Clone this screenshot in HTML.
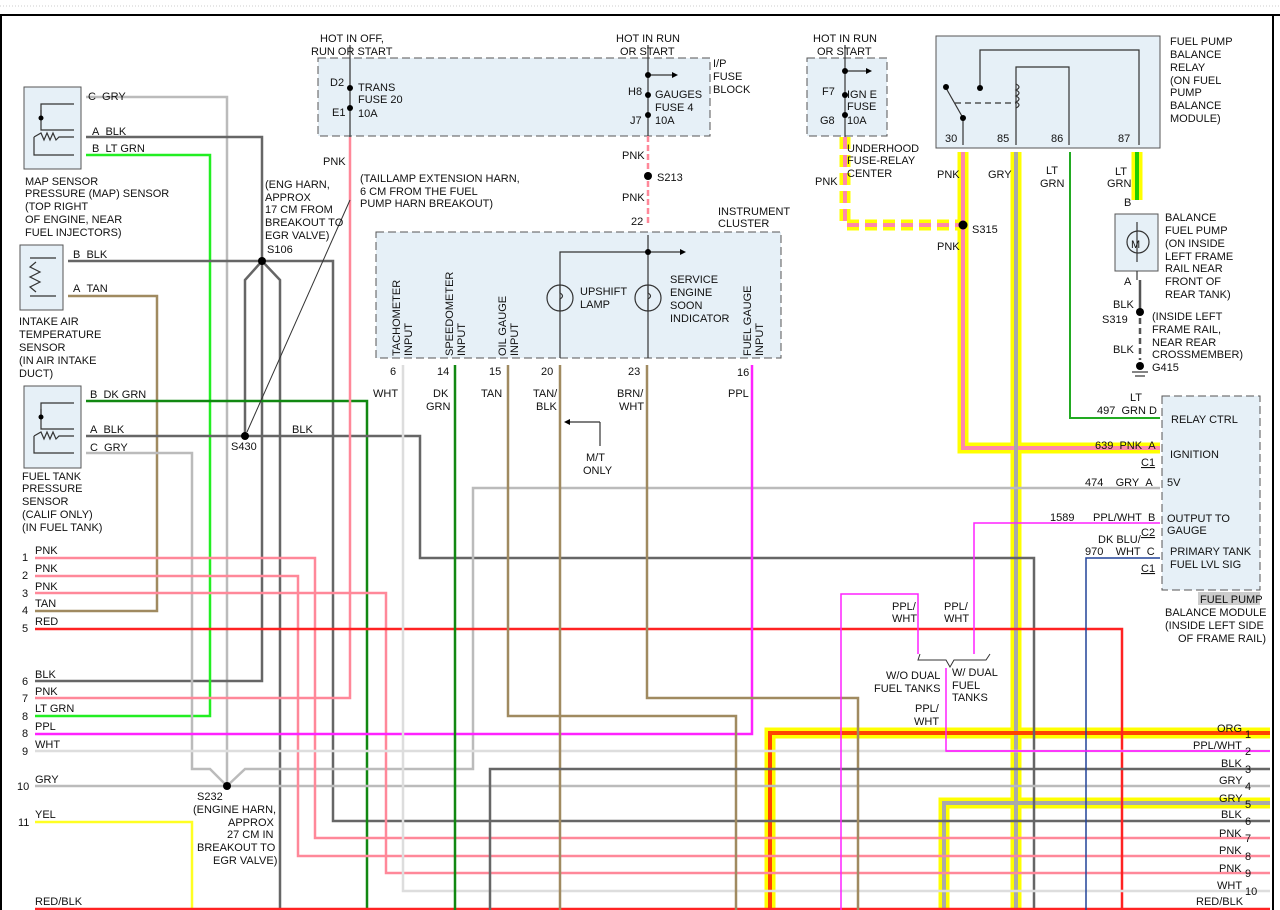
<!DOCTYPE html>
<html><head><meta charset="utf-8"><style>
html,body{margin:0;padding:0;background:#fff;}
svg{display:block;}
text{font-family:"Liberation Sans",sans-serif;font-size:11px;fill:#111;}
</style></head><body>
<svg width="1280" height="910" viewBox="0 0 1280 910" xmlns="http://www.w3.org/2000/svg">
<line x1="0" y1="6" x2="1280" y2="6" stroke="#ccc" stroke-dasharray="1 2"/>
<line x1="0" y1="15" x2="1280" y2="15" stroke="#000" stroke-width="2"/>
<line x1="1" y1="15" x2="1" y2="910" stroke="#000" stroke-width="2"/>
<line x1="1273" y1="15" x2="1273" y2="910" stroke="#000" stroke-width="2"/>

<g fill="#e6f0f7" stroke="#555" stroke-dasharray="8 4">
<rect x="318" y="58" width="392" height="78"/>
<rect x="807" y="58" width="80" height="78"/>
<rect x="376" y="232" width="405" height="126"/>
<rect x="1162" y="396" width="98" height="194"/>
</g>
<g fill="#e6f0f7" stroke="#555">
<rect x="936" y="36" width="224" height="112"/>
<rect x="24" y="87" width="57" height="82"/>
<rect x="20" y="245" width="43" height="65"/>
<rect x="24" y="386" width="57" height="82"/>
<rect x="1115" y="214" width="43" height="57"/>
</g>

<g fill="none" stroke="#ffff00" stroke-width="11">
<polyline points="963,152 963,448 1160,448"/>
<line x1="1016" y1="152" x2="1016" y2="910"/>
<polyline points="770,910 770,733 1270,733"/>
<polyline points="944,910 944,803 1270,803"/>
<line x1="1137" y1="152" x2="1137" y2="200"/>
<polyline points="845,137 845,225 963,225" stroke-dasharray="12 6"/>
</g>
<g fill="none" stroke-width="4">
<polyline points="963,152 963,448 1160,448" stroke="#ff88aa"/>
<line x1="1016" y1="152" x2="1016" y2="910" stroke="#aaa"/>
<polyline points="770,910 770,733 1270,733" stroke="#ff4400"/>
<polyline points="944,910 944,803 1270,803" stroke="#aaa"/>
<line x1="1137" y1="152" x2="1137" y2="200" stroke="#22cc00"/>
<polyline points="845,137 845,225 963,225" stroke="#ff88aa" stroke-dasharray="12 6"/>
</g>

<g fill="none" stroke-width="2.5">
<polyline points="86,97 227,97 227,786" stroke="#bbb"/>
<polyline points="86,137 262,137 262,681 35,681" stroke="#666"/>
<polyline points="86,155 210,155 210,716 35,716" stroke="#22ee22"/>
<polyline points="68,261 333,261 333,821 1270,821" stroke="#666"/>
<polyline points="262,261 245,280 245,436" stroke="#666"/>
<polyline points="262,261 280,280 280,910" stroke="#666"/>
<polyline points="68,296 157,296 157,611 35,611" stroke="#a08a60"/>
<polyline points="86,401 367,401 367,910" stroke="#118811"/>
<polyline points="86,436 420,436 420,558 1034,558 1034,910" stroke="#666"/>
<polyline points="86,453 192,453 192,769 210,769 227,786" stroke="#bbb"/>
<polyline points="227,786 245,769 473,769 473,488 1160,488" stroke="#bbb"/>
<polyline points="35,786 1270,786" stroke="#bbb"/>
<polyline points="35,558 315,558 315,838 1270,838" stroke="#ff8899"/>
<polyline points="35,576 298,576 298,856 1270,856" stroke="#ff8899"/>
<polyline points="35,593 386,593 386,873 1270,873" stroke="#ff8899"/>
<polyline points="350,137 350,698 35,698" stroke="#ff8899"/>
<polyline points="35,629 1122,629 1122,910" stroke="#ff2222"/>
<polyline points="35,734 752,734 752,365" stroke="#ff22ff"/>
<polyline points="35,751 1270,751" stroke="#ddd"/>
<polyline points="403,365 403,891 1270,891" stroke="#ddd"/>
<polyline points="35,822 192,822 192,910" stroke="#ffff22"/>
<line x1="35" y1="909" x2="1270" y2="909" stroke="#ff2222"/>
<line x1="455" y1="365" x2="455" y2="910" stroke="#118811"/>
<polyline points="508,365 508,716 736,716 736,910" stroke="#a08a60"/>
<line x1="560" y1="365" x2="560" y2="910" stroke="#a08a60"/>
<polyline points="647,365 647,698 858,698 858,910" stroke="#a08a60"/>
<polyline points="490,910 490,769 1270,769" stroke="#666"/>
<polyline points="841,910 841,594 918,594 918,654" stroke="#ff22ff" stroke-width="1.5"/>
<polyline points="1160,523 974,523 974,654" stroke="#ff22ff" stroke-width="1.5"/>
<polyline points="946,668 946,751 1270,751" stroke="#ff22ff" stroke-width="1.5"/>
<polyline points="1160,558 1086,558 1086,910" stroke="#224499" stroke-width="1.5"/>
<polyline points="1070,152 1070,418 1160,418" stroke="#22aa22" stroke-width="2"/>
<line x1="648" y1="136" x2="648" y2="225" stroke="#ff8899" stroke-dasharray="6 3"/>
<line x1="1140" y1="280" x2="1140" y2="312" stroke="#555"/>
<line x1="1140" y1="318" x2="1140" y2="360" stroke="#555" stroke-dasharray="6 4"/>
</g>
<line x1="946" y1="751" x2="1270" y2="751" stroke="#ff22ff" stroke-width="1.5"/>

<g fill="none" stroke="#333" stroke-width="1.2">
<line x1="350" y1="45" x2="350" y2="137"/>
<line x1="648" y1="45" x2="648" y2="136"/>
<line x1="648" y1="75" x2="672" y2="75"/>
<line x1="845" y1="45" x2="845" y2="137"/>
<line x1="845" y1="71" x2="866" y2="71"/>
<line x1="648" y1="235" x2="648" y2="358"/>
<polyline points="560,358 560,252 680,252"/>
<polyline points="600,422 600,446"/><polyline points="600,422 570,422"/>
<polyline points="980,88 980,50 1139,50 1139,145"/>
<polyline points="1016,145 1016,67 1069,67 1069,145"/>
<line x1="963" y1="118" x2="963" y2="145"/>
<line x1="946" y1="88" x2="963" y2="118"/>
<line x1="955" y1="103" x2="1016" y2="103" stroke-dasharray="6 4"/>
<path d="M1016,84 q6,3 0,6 q6,3 0,6 q6,3 0,6 q6,3 0,6"/>
<line x1="1137" y1="222" x2="1137" y2="262"/>
<circle cx="1138" cy="242" r="11"/>
<line x1="1137" y1="271" x2="1137" y2="280"/>
<line x1="1132" y1="372" x2="1148" y2="372"/>
<line x1="1135" y1="376" x2="1145" y2="376"/>
<circle cx="560" cy="298" r="13"/>
<circle cx="648" cy="298" r="13"/>
<path d="M560,285 v8 q5,3 0,6 v12 M648,285 v8 q5,3 0,6 v12"/>
<polyline points="41,110 41,130 74,130"/>
<polyline points="41,118 41,104 74,104"/>
<polyline points="34,137 34,155 74,155"/>
<polyline points="34,137 41,133 44,140 47,133 50,140 53,133 56,140 59,137 74,137"/>
<polyline points="41,409 41,429 74,429"/>
<polyline points="41,417 41,403 74,403"/>
<polyline points="34,436 34,453 74,453"/>
<polyline points="34,436 41,432 44,439 47,432 50,439 53,432 56,439 59,436 74,436"/>
<polyline points="30,258 56,258"/>
<polyline points="30,296 56,296"/>
<polyline points="36,262 30,267 40,272 30,277 40,282 30,287 36,292"/>
</g>
<g fill="#000">
<circle cx="350" cy="88" r="3"/><circle cx="350" cy="108" r="3"/>
<circle cx="648" cy="75" r="3"/><circle cx="648" cy="95" r="3"/><circle cx="648" cy="115" r="3"/>
<circle cx="845" cy="71" r="3"/><circle cx="845" cy="95" r="3"/><circle cx="845" cy="115" r="3"/>
<circle cx="648" cy="176" r="4"/><circle cx="648" cy="252" r="3"/>
<circle cx="262" cy="261" r="4"/><circle cx="245" cy="436" r="4"/><circle cx="227" cy="786" r="4"/>
<circle cx="963" cy="225" r="4.5"/><circle cx="1140" cy="312" r="4"/><circle cx="1140" cy="366" r="4"/>
<circle cx="980" cy="88" r="3"/><circle cx="946" cy="87" r="3"/><circle cx="963" cy="118" r="3"/>
<circle cx="41" cy="118" r="2.5"/><circle cx="41" cy="417" r="2.5"/>
<polygon points="672,72 678,75 672,78"/><polygon points="866,68 872,71 866,74"/><polygon points="680,249 686,252 680,255"/><polygon points="570,419 564,422 570,425"/>
</g>
<line x1="350" y1="200" x2="247" y2="432" stroke="#333" stroke-width="1"/>
<g fill="none" stroke="#333" stroke-width="1">
<polyline points="920,654 918,660 946,660 950,667 954,660 986,660 990,654"/>
</g>

<g>
<text x="88" y="100">C&#160;&#160;GRY</text>
<text x="92" y="135">A&#160;&#160;BLK</text>
<text x="92" y="152">B&#160;&#160;LT GRN</text>
<text x="25" y="185">MAP SENSOR</text><text x="25" y="197">PRESSURE (MAP) SENSOR</text><text x="25" y="210">(TOP RIGHT</text><text x="25" y="223">OF ENGINE, NEAR</text><text x="25" y="236">FUEL INJECTORS)</text>
<text x="73" y="258">B&#160;&#160;BLK</text><text x="73" y="292">A&#160;&#160;TAN</text>
<text x="19" y="325">INTAKE AIR</text><text x="19" y="338">TEMPERATURE</text><text x="19" y="351">SENSOR</text><text x="19" y="364">(IN AIR INTAKE</text><text x="19" y="377">DUCT)</text>
<text x="90" y="398">B&#160;&#160;DK GRN</text><text x="90" y="433">A&#160;&#160;BLK</text><text x="90" y="451">C&#160;&#160;GRY</text>
<text x="22" y="480">FUEL TANK</text><text x="22" y="492">PRESSURE</text><text x="22" y="505">SENSOR</text><text x="22" y="518">(CALIF ONLY)</text><text x="22" y="531">(IN FUEL TANK)</text>
<text x="265" y="188">(ENG HARN,</text><text x="265" y="201">APPROX</text><text x="265" y="213">17 CM FROM</text><text x="265" y="226">BREAKOUT TO</text><text x="265" y="239">EGR VALVE)</text><text x="267" y="253">S106</text>
<text x="360" y="182">(TAILLAMP EXTENSION HARN,</text><text x="360" y="195">6 CM FROM THE FUEL</text><text x="360" y="207">PUMP HARN BREAKOUT)</text>
<text x="231" y="450">S430</text><text x="292" y="433">BLK</text>
<text x="323" y="165">PNK</text>
<text x="320" y="42">HOT IN OFF,</text><text x="311" y="55">RUN OR START</text>
<text x="330" y="86">D2</text><text x="358" y="91">TRANS</text><text x="358" y="103">FUSE 20</text><text x="332" y="116">E1</text><text x="358" y="117">10A</text>
<text x="616" y="42">HOT IN RUN</text><text x="620" y="55">OR START</text>
<text x="713" y="67">I/P</text><text x="713" y="80">FUSE</text><text x="713" y="93">BLOCK</text>
<text x="628" y="95">H8</text><text x="655" y="98">GAUGES</text><text x="655" y="111">FUSE 4</text><text x="630" y="124">J7</text><text x="655" y="124">10A</text>
<text x="622" y="159">PNK</text><text x="657" y="181">S213</text><text x="622" y="201">PNK</text><text x="631" y="225">22</text>
<text x="718" y="215">INSTRUMENT</text><text x="718" y="227">CLUSTER</text>
<text x="580" y="295">UPSHIFT</text><text x="580" y="308">LAMP</text>
<text x="670" y="283">SERVICE</text><text x="670" y="296">ENGINE</text><text x="670" y="309">SOON</text><text x="670" y="322">INDICATOR</text>
<text transform="translate(400,356) rotate(-90)">TACHOMETER</text><text transform="translate(412,356) rotate(-90)">INPUT</text>
<text transform="translate(453,356) rotate(-90)">SPEEDOMETER</text><text transform="translate(465,356) rotate(-90)">INPUT</text>
<text transform="translate(506,356) rotate(-90)">OIL GAUGE</text><text transform="translate(518,356) rotate(-90)">INPUT</text>
<text transform="translate(751,356) rotate(-90)">FUEL GAUGE</text><text transform="translate(763,356) rotate(-90)">INPUT</text>
<text x="390" y="375">6</text><text x="437" y="375">14</text><text x="489" y="375">15</text><text x="541" y="375">20</text><text x="628" y="375">23</text><text x="737" y="376">16</text>
<text x="373" y="397">WHT</text><text x="433" y="397">DK</text><text x="426" y="410">GRN</text><text x="481" y="397">TAN</text>
<text x="533" y="397">TAN/</text><text x="536" y="410">BLK</text><text x="617" y="397">BRN/</text><text x="619" y="410">WHT</text><text x="728" y="397">PPL</text>
<text x="586" y="461">M/T</text><text x="583" y="474">ONLY</text>
<text x="813" y="42">HOT IN RUN</text><text x="817" y="55">OR START</text>
<text x="822" y="95">F7</text><text x="847" y="98">IGN E</text><text x="847" y="110">FUSE</text><text x="820" y="124">G8</text><text x="847" y="124">10A</text>
<text x="847" y="152">UNDERHOOD</text><text x="847" y="164">FUSE-RELAY</text><text x="847" y="177">CENTER</text><text x="815" y="185">PNK</text>
<text x="1170" y="45">FUEL PUMP</text><text x="1170" y="58">BALANCE</text><text x="1170" y="71">RELAY</text><text x="1170" y="84">(ON FUEL</text><text x="1170" y="96">PUMP</text><text x="1170" y="109">BALANCE</text><text x="1170" y="122">MODULE)</text>
<text x="945" y="142">30</text><text x="997" y="142">85</text><text x="1051" y="142">86</text><text x="1118" y="142">87</text>
<text x="937" y="178">PNK</text><text x="988" y="178">GRY</text><text x="1046" y="174">LT</text><text x="1040" y="187">GRN</text><text x="1115" y="175">LT</text><text x="1107" y="187">GRN</text>
<text x="1124" y="206">B</text><text x="972" y="233">S315</text><text x="937" y="250">PNK</text>
<text x="1165" y="221">BALANCE</text><text x="1165" y="234">FUEL PUMP</text><text x="1165" y="247">(ON INSIDE</text><text x="1165" y="260">LEFT FRAME</text><text x="1165" y="272">RAIL NEAR</text><text x="1165" y="285">FRONT OF</text><text x="1165" y="298">REAR TANK)</text>
<text x="1124" y="285">A</text><text x="1113" y="308">BLK</text><text x="1102" y="323">S319</text><text x="1113" y="353">BLK</text>
<text x="1152" y="320">(INSIDE LEFT</text><text x="1152" y="333">FRAME RAIL,</text><text x="1152" y="346">NEAR REAR</text><text x="1152" y="358">CROSSMEMBER)</text><text x="1152" y="371">G415</text>
<text x="1130" y="401">LT</text><text x="1097" y="414">497&#160;&#160;GRN D</text><text x="1171" y="423">RELAY CTRL</text>
<text x="1095" y="449">639&#160;&#160;PNK&#160;&#160;A</text><text x="1170" y="458">IGNITION</text><text x="1141" y="466" text-decoration="underline">C1</text>
<text x="1085" y="486">474&#160;&#160;&#160;&#160;GRY&#160;&#160;A</text><text x="1167" y="486">5V</text>
<text x="1050" y="521">1589</text><text x="1093" y="521">PPL/WHT&#160;&#160;B</text><text x="1167" y="522">OUTPUT TO</text><text x="1167" y="534">GAUGE</text><text x="1141" y="536" text-decoration="underline">C2</text>
<text x="1098" y="543">DK BLU/</text><text x="1085" y="555">970&#160;&#160;&#160;&#160;WHT&#160;&#160;C</text><text x="1170" y="555">PRIMARY TANK</text><text x="1170" y="568">FUEL LVL SIG</text><text x="1141" y="572" text-decoration="underline">C1</text>
<rect x="1198" y="592" width="62" height="13" fill="#ccc"/><text x="1200" y="603">FUEL PUMP</text>
<text x="1165" y="616">BALANCE MODULE</text><text x="1165" y="629">(INSIDE LEFT SIDE</text><text x="1178" y="642">OF FRAME RAIL)</text>
<text x="892" y="610">PPL/</text><text x="892" y="622">WHT</text><text x="944" y="610">PPL/</text><text x="944" y="622">WHT</text>
<text x="886" y="679">W/O DUAL</text><text x="874" y="692">FUEL TANKS</text><text x="952" y="676">W/ DUAL</text><text x="952" y="689">FUEL</text><text x="952" y="701">TANKS</text>
<text x="915" y="712">PPL/</text><text x="914" y="725">WHT</text>
<text x="1217" y="732">ORG</text><text x="1193" y="749">PPL/WHT</text><text x="1221" y="767">BLK</text><text x="1219" y="784">GRY</text><text x="1219" y="802">GRY</text><text x="1221" y="818">BLK</text><text x="1219" y="837">PNK</text><text x="1219" y="854">PNK</text><text x="1219" y="872">PNK</text><text x="1217" y="889">WHT</text><text x="1196" y="905">RED/BLK</text>
<text x="1245" y="738">1</text><text x="1245" y="755">2</text><text x="1245" y="773">3</text><text x="1245" y="790">4</text><text x="1245" y="808">5</text><text x="1245" y="825">6</text><text x="1245" y="842">7</text><text x="1245" y="860">8</text><text x="1245" y="877">9</text><text x="1245" y="895">10</text>
<text x="22" y="561">1</text><text x="22" y="579">2</text><text x="22" y="597">3</text><text x="22" y="614">4</text><text x="22" y="632">5</text><text x="22" y="685">6</text><text x="22" y="702">7</text><text x="22" y="720">8</text><text x="22" y="737">8</text><text x="22" y="755">9</text><text x="17" y="790">10</text><text x="18" y="826">11</text>
<text x="35" y="554">PNK</text><text x="35" y="572">PNK</text><text x="35" y="590">PNK</text><text x="35" y="607">TAN</text><text x="35" y="625">RED</text><text x="35" y="678">BLK</text><text x="35" y="695">PNK</text><text x="35" y="712">LT GRN</text><text x="35" y="730">PPL</text><text x="35" y="748">WHT</text><text x="35" y="783">GRY</text><text x="35" y="818">YEL</text><text x="35" y="905">RED/BLK</text>
<text x="197" y="800">S232</text><text x="193" y="813">(ENGINE HARN,</text><text x="228" y="826">APPROX</text><text x="227" y="838">27 CM IN</text><text x="197" y="851">BREAKOUT TO</text><text x="213" y="864">EGR VALVE)</text>
<text x="1131" y="248" font-size="14">M</text>
</g>
</svg>
</body></html>
